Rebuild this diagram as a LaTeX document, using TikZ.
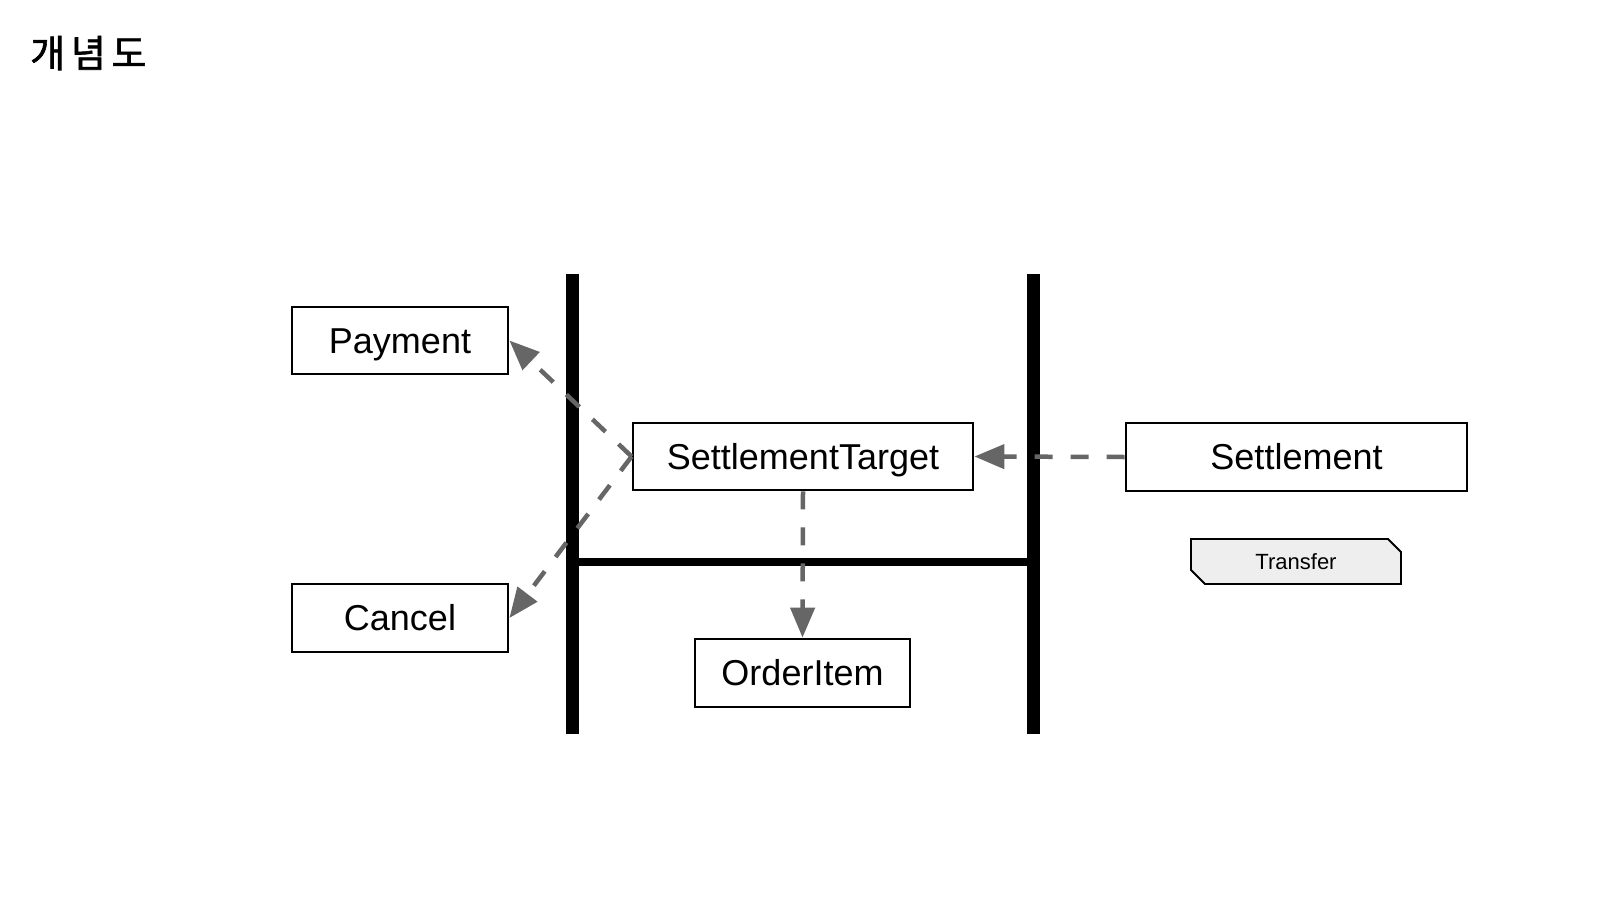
\documentclass[tikz,border=0pt]{standalone}
\usepackage{fontspec}
\setmainfont{Liberation Sans}
\newfontfamily\krfont[LetterSpace=15,FakeBold=1.6]{Noto Sans CJK KR}
\usetikzlibrary{arrows.meta}
\definecolor{dashgray}{HTML}{666666}
\definecolor{tagfill}{HTML}{EEEEEE}
\tikzset{
  box/.style={draw=black, line width=2.8pt, fill=white, rectangle, inner sep=0pt,
    font=\fontsize{36}{43}\selectfont, text height=25.8pt, text depth=0pt},
  bar/.style={line width=13pt, black},
  hbar/.style={line width=8pt, black},
  dep/.style={draw=dashgray, line width=4.5pt, dash pattern=on 18pt off 18pt,
    -{Triangle[length=30pt,width=24pt]}},
}
\begin{document}
\begin{tikzpicture}[x=1pt,y=-1pt]
\useasboundingbox (0,0) rectangle (1606,910);
\fill[white] (0,0) rectangle (1606,910);
% title
\node[anchor=west, inner sep=0pt, font=\krfont\fontsize{38}{44}\selectfont] (title) at (30,53) {개념도};
% bars
\coordinate (lt) at (572,274);
\coordinate (lb) at (572,734);
\coordinate (rt) at (1033,274);
\coordinate (rb) at (1033,734);
\coordinate (hl) at (572,562);
\coordinate (hr) at (1033,562);
\draw[bar] (lt) -- (lb);
\draw[bar] (rt) -- (rb);
\draw[hbar] (hl) -- (hr);
% boxes
\node[box, minimum width=216pt, minimum height=67pt] (pay) at (400,340.5) {Payment};
\node[box, minimum width=216pt, minimum height=68pt] (cancel) at (400,618) {Cancel};
\node[box, minimum width=340pt, minimum height=67pt] (st) at (803,456.5) {SettlementTarget};
\node[box, minimum width=341pt, minimum height=68pt] (settle) at (1296.5,457) {Settlement};
\node[box, minimum width=215pt, minimum height=68pt] (oi) at (802.5,673) {OrderItem};
% transfer tag
\draw[line width=1.8pt, fill=tagfill] (1191,539) -- (1388,539) -- (1401,552) -- (1401,584)
  -- (1205,584) -- (1191,570) -- cycle;
\node[inner sep=0pt, font=\fontsize{22}{26}\selectfont, text height=15.8pt, text depth=0pt] (transfer) at (1296,562) {Transfer};
% dependencies
\draw[dep] (st.west) -- (pay.east);
\draw[dep] (st.west) -- (cancel.east);
\draw[dep] (settle.west) -- (st.east);
\draw[dep] (st.south) -- (oi.north);
\end{tikzpicture}
\end{document}
